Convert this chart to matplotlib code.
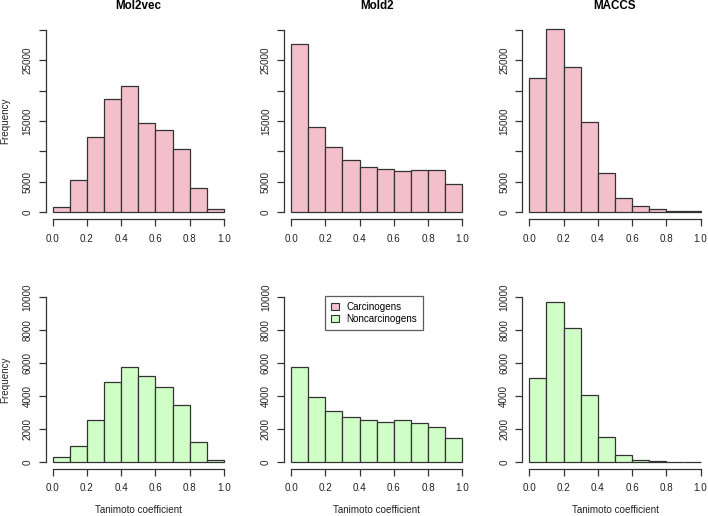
import matplotlib
matplotlib.use("Agg")
import matplotlib.pyplot as plt
from matplotlib.patches import Patch

plt.rcParams["font.family"] = ["Liberation Sans", "DejaVu Sans"]

# bin edges shared by every histogram
bin_edges = [0.0, 0.1, 0.2, 0.3, 0.4, 0.5, 0.6, 0.7, 0.8, 0.9, 1.0]
methods = ["Mol2vec", "Mold2", "MACCS"]

# carcinogens (top row)
carc_mol2vec = [900, 5200, 12350, 18600, 20800, 14650, 13500, 10400, 4000, 550]
carc_mold2 = [27700, 14050, 10700, 8500, 7500, 7150, 6800, 7000, 6850, 4650]
carc_maccs = [22050, 30100, 23850, 14800, 6450, 2250, 1000, 450, 170, 110]

# noncarcinogens (bottom row)
noncarc_mol2vec = [280, 950, 2570, 4840, 5770, 5240, 4580, 3480, 1200, 110]
noncarc_mold2 = [5790, 3930, 3120, 2750, 2550, 2410, 2530, 2350, 2130, 1440]
noncarc_maccs = [5100, 9720, 8160, 4070, 1520, 410, 120, 60, 25, 10]

top_ticks = [0, 5000, 10000, 15000, 20000, 25000, 30000]
top_labels = ["0", "5000", "", "15000", "", "25000", ""]
bottom_ticks = [0, 2000, 4000, 6000, 8000, 10000]
bottom_labels = ["0", "2000", "4000", "6000", "8000", "10000"]
x_ticks = [0.0, 0.2, 0.4, 0.6, 0.8, 1.0]
x_labels = ["0.0", "0.2", "0.4", "0.6", "0.8", "1.0"]

PINK = "#F2BFCB"
GREEN = "#CFFFC6"
EDGE = "#333333"
FS = 7.1

W, H = 708, 516
fig = plt.figure(figsize=(W / 100, H / 100), dpi=100)


def px_axes(left, top, right, bottom):
    return fig.add_axes([left / W, 1 - bottom / H, (right - left) / W, (bottom - top) / H])


col_lefts = [45.85, 284.15, 522.45]
col_width = 185.0
rows = [
    dict(top=22.7, bottom=219.3, data=[carc_mol2vec, carc_mold2, carc_maccs],
         color=PINK, ymax=30000, ticks=top_ticks, labels=top_labels),
    dict(top=290.7, bottom=468.6, data=[noncarc_mol2vec, noncarc_mold2, noncarc_maccs],
         color=GREEN, ymax=10000, ticks=bottom_ticks, labels=bottom_labels),
]

for r, row in enumerate(rows):
    for c, left in enumerate(col_lefts):
        ax = px_axes(left, row["top"], left + col_width, row["bottom"])
        counts = row["data"][c]
        ax.bar(bin_edges[:-1], counts, width=0.1, align="edge",
               color=row["color"], edgecolor=EDGE, linewidth=0.9)
        ymax = row["ymax"]
        ax.set_xlim(-0.04, 1.04)
        ax.set_ylim(-0.04 * ymax, 1.04 * ymax)
        for s in ("top", "right"):
            ax.spines[s].set_visible(False)
        for s in ("left", "bottom"):
            ax.spines[s].set_color(EDGE)
            ax.spines[s].set_linewidth(0.9)
        ax.spines["left"].set_bounds(0, ymax)
        ax.spines["bottom"].set_bounds(0, 1)
        ax.set_xticks(x_ticks)
        ax.set_xticklabels(x_labels)
        ax.set_yticks(row["ticks"])
        ax.set_yticklabels(row["labels"], rotation=90, va="center")
        ax.tick_params(axis="both", length=5, width=0.9, color=EDGE,
                       labelsize=FS, labelcolor="#222222")
        ax.tick_params(axis="x", pad=5.5)
        ax.tick_params(axis="y", pad=4.5)
        if r == 0:
            ax.set_title(methods[c], fontsize=8.4, fontweight="bold", y=1.068, pad=0)
        else:
            ax.set_xlabel("Tanimoto coefficient", fontsize=FS, color="#222222")
            ax.xaxis.set_label_coords(0.5, -0.205)
        if c == 0:
            ax.set_ylabel("Frequency", fontsize=FS, color="#222222")
            ax.yaxis.set_label_coords(-0.19, 0.5)
        if r == 1 and c == 1:
            handles = [Patch(facecolor=PINK, edgecolor=EDGE, linewidth=0.8),
                       Patch(facecolor=GREEN, edgecolor=EDGE, linewidth=0.8)]
            leg = ax.legend(handles, ["Carcinogens", "Noncarcinogens"],
                            loc="upper left", bbox_to_anchor=(0.222, 0.968),
                            fontsize=FS, frameon=True, fancybox=False,
                            handlelength=0.75, handleheight=0.75, handletextpad=0.8,
                            borderpad=0.6, labelspacing=0.15, borderaxespad=0)
            leg.get_frame().set_edgecolor(EDGE)
            leg.get_frame().set_linewidth(0.9)

fig.savefig("out.png", dpi=100)
